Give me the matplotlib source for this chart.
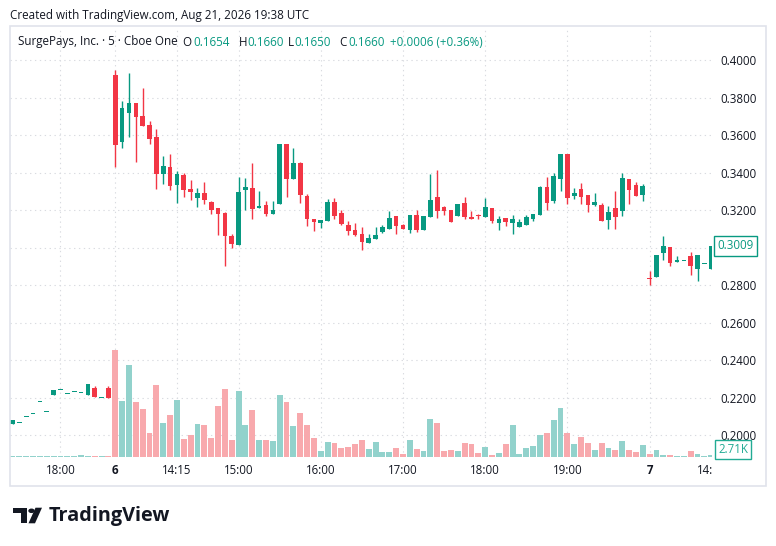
import matplotlib
matplotlib.use('Agg')
import matplotlib.pyplot as plt
import matplotlib.transforms as mtransforms
from matplotlib.patches import Rectangle, Circle, Polygon

plt.rcParams['font.family'] = ['Open Sans', 'DejaVu Sans']

# bar index: 0 = first 5-min bar of the 6th (13:30), 78 = first bar of the 7th
bar_idx = list(range(-15, 88))

opens = [0.2059, 0.2062, 0.2094, 0.2112, 0.2176, 0.2123, 0.2215, 0.2238, 0.2219, 0.2228,
         0.2224, 0.2215, 0.2251, 0.2197, 0.2251,
         0.3920, 0.3564, 0.3719, 0.3771, 0.3701, 0.3653, 0.3589, 0.3394, 0.3429, 0.3335,
         0.3387, 0.3312, 0.3266, 0.3291, 0.3243, 0.3211, 0.3184, 0.3061, 0.3015, 0.3308,
         0.3317, 0.3213, 0.3227, 0.3180, 0.3234, 0.3552, 0.3367, 0.3451, 0.3275, 0.3152,
         0.3132, 0.3143, 0.3243, 0.3184, 0.3120, 0.3093, 0.3072, 0.3026, 0.3047, 0.3083,
         0.3100, 0.3168, 0.3120, 0.3093, 0.3173, 0.3093, 0.3163, 0.3269, 0.3216, 0.3200,
         0.3168, 0.3238, 0.3163, 0.3168, 0.3163, 0.3211, 0.3131, 0.3157, 0.3131, 0.3109,
         0.3120, 0.3152, 0.3173, 0.3323, 0.3248, 0.3365, 0.3499, 0.3275, 0.3312, 0.3280,
         0.3227, 0.3227, 0.3147, 0.3211, 0.3195, 0.3365, 0.3333, 0.3280,
         0.2837, 0.2843, 0.2971, 0.3003, 0.2925, 0.2926, 0.2955, 0.2885, 0.2910, 0.2885]
highs = [0.2080, 0.2062, 0.2094, 0.2112, 0.2176, 0.2123, 0.2240, 0.2238, 0.2219, 0.2228,
         0.2224, 0.2272, 0.2261, 0.2197, 0.2261,
         0.3947, 0.3781, 0.3931, 0.3771, 0.3851, 0.3675, 0.3632, 0.3488, 0.3499, 0.3408,
         0.3397, 0.3360, 0.3317, 0.3349, 0.3248, 0.3211, 0.3189, 0.3072, 0.3376, 0.3371,
         0.3451, 0.3301, 0.3248, 0.3248, 0.3552, 0.3552, 0.3531, 0.3456, 0.3285, 0.3152,
         0.3147, 0.3259, 0.3264, 0.3200, 0.3141, 0.3131, 0.3109, 0.3072, 0.3109, 0.3120,
         0.3195, 0.3168, 0.3125, 0.3173, 0.3200, 0.3168, 0.3392, 0.3413, 0.3221, 0.3200,
         0.3232, 0.3269, 0.3195, 0.3179, 0.3264, 0.3211, 0.3168, 0.3157, 0.3173, 0.3152,
         0.3173, 0.3179, 0.3328, 0.3376, 0.3397, 0.3499, 0.3499, 0.3317, 0.3344, 0.3280,
         0.3291, 0.3237, 0.3221, 0.3301, 0.3397, 0.3365, 0.3349, 0.3339,
         0.2875, 0.2960, 0.3061, 0.3003, 0.2955, 0.2926, 0.2976, 0.2960, 0.2910, 0.3009]
lows = [0.2059, 0.2062, 0.2094, 0.2112, 0.2176, 0.2123, 0.2215, 0.2238, 0.2219, 0.2228,
        0.2224, 0.2215, 0.2204, 0.2197, 0.2197,
        0.3428, 0.3532, 0.3591, 0.3458, 0.3650, 0.3554, 0.3314, 0.3340, 0.3308, 0.3239,
        0.3271, 0.3255, 0.3218, 0.3234, 0.3180, 0.3068, 0.2903, 0.2999, 0.3015, 0.3202,
        0.3154, 0.3212, 0.3168, 0.3180, 0.3234, 0.3271, 0.3367, 0.3239, 0.3116, 0.3090,
        0.3106, 0.3143, 0.3154, 0.3122, 0.3068, 0.3061, 0.2988, 0.3026, 0.3047, 0.3077,
        0.3100, 0.3072, 0.3100, 0.3077, 0.3083, 0.3093, 0.3163, 0.3157, 0.3173, 0.3136,
        0.3168, 0.3152, 0.3152, 0.3152, 0.3163, 0.3131, 0.3093, 0.3115, 0.3072, 0.3109,
        0.3120, 0.3141, 0.3173, 0.3200, 0.3237, 0.3301, 0.3232, 0.3259, 0.3232, 0.3189,
        0.3221, 0.3143, 0.3099, 0.3099, 0.3168, 0.3232, 0.3275, 0.3248,
        0.2800, 0.2843, 0.2933, 0.2901, 0.2925, 0.2926, 0.2853, 0.2821, 0.2910, 0.2885]
closes = [0.2080, 0.2062, 0.2094, 0.2112, 0.2176, 0.2123, 0.2240, 0.2238, 0.2219, 0.2228,
          0.2224, 0.2272, 0.2204, 0.2197, 0.2197,
          0.3547, 0.3742, 0.3771, 0.3698, 0.3650, 0.3580, 0.3394, 0.3435, 0.3330, 0.3392,
          0.3308, 0.3298, 0.3291, 0.3255, 0.3202, 0.3180, 0.3063, 0.3020, 0.3296, 0.3323,
          0.3207, 0.3216, 0.3179, 0.3200, 0.3552, 0.3367, 0.3451, 0.3282, 0.3154, 0.3138,
          0.3147, 0.3243, 0.3168, 0.3127, 0.3090, 0.3067, 0.3031, 0.3051, 0.3067, 0.3109,
          0.3157, 0.3115, 0.3100, 0.3173, 0.3093, 0.3168, 0.3253, 0.3195, 0.3195, 0.3136,
          0.3232, 0.3163, 0.3154, 0.3166, 0.3216, 0.3141, 0.3152, 0.3136, 0.3152, 0.3136,
          0.3163, 0.3179, 0.3323, 0.3237, 0.3381, 0.3499, 0.3264, 0.3291, 0.3269, 0.3227,
          0.3243, 0.3143, 0.3189, 0.3163, 0.3371, 0.3307, 0.3275, 0.3328,
          0.2832, 0.2960, 0.3008, 0.2917, 0.2927, 0.2926, 0.2901, 0.2960, 0.2910, 0.3009]
# volume in thousands of shares
volumes = [1.1, 1.1, 1.1, 1.1, 1.1, 1.1, 1.1, 1.1, 1.1, 1.1, 2.7, 1.1, 1.1, 1.1, 1.1,
           172, 89, 148, 88, 77, 39, 116, 55, 68, 92,
           29, 36, 53, 52, 31, 82, 109, 28, 106, 52,
           76, 28, 27, 25, 100, 88, 49, 70, 52, 30,
           9.1, 23.5, 21.9, 13.9, 15.5, 20.3, 26.7, 12.3, 23.5, 7.5,
           7.5, 13.9, 4.3, 26.7, 12.3, 9.1, 60.3, 53.9, 9.1, 10.7,
           9.1, 21.9, 20.3, 5.9, 15.5, 2.7, 5.9, 20.3, 50.7, 4.3,
           13.9, 17.1, 34.7, 37.9, 58.7, 77.9, 37.9, 20.3, 31.5, 21.9,
           10.7, 21.9, 13.9, 10.7, 25.1, 10.7, 7.5, 18.7,
           4.3, 10.7, 2.7, 2.7, 1.1, 1.1, 9.1, 4.3, 1.1, 2.71]

tick_idx = [-8, 0, 9, 18, 30, 42, 54, 66, 78, 87]
tick_labels = ['18:00', '6', '14:15', '15:00', '16:00', '17:00', '18:00', '19:00', '7', '14:15']
day_ticks = ['6', '7']
price_ticks = [0.20, 0.22, 0.24, 0.26, 0.28, 0.30, 0.32, 0.34, 0.36, 0.38, 0.40]

UP = '#089981'
DOWN = '#F23645'
UP_VOL = '#92d2cc'
DOWN_VOL = '#f8a9ad'
TXT = '#131722'
GRID = '#d9dbe0'

W, H = 776, 546


def fx(px):
    return px / W


def fy(py):
    return 1 - py / H


fig = plt.figure(figsize=(W / 100, H / 100), dpi=100)
fig.patch.set_facecolor('white')

rect = [fx(10), fy(457), fx(712) - fx(10), fy(27) - fy(457)]
xlim = (-15.37, 87.11)
ylim = (0.18827, 0.41760)

# grid layer
gax = fig.add_axes(rect)
gax.set_xlim(*xlim)
gax.set_ylim(*ylim)
for t in tick_idx[:-1]:
    gax.axvline(t, color=GRID, lw=0.8, ls=(0, (1.2, 3.2)))
for p in price_ticks:
    gax.axhline(p, color=GRID, lw=0.8, ls=(0, (1.2, 3.2)))
gax.axis('off')

# volume layer
vax = fig.add_axes(rect)
vax.set_xlim(*xlim)
vax.set_ylim(0, 688)
vol_colors = [UP_VOL if c >= o else DOWN_VOL for o, c in zip(opens, closes)]
vax.bar(bar_idx, volumes, width=0.86, color=vol_colors, linewidth=0)
vax.axis('off')

# price layer
ax = fig.add_axes(rect)
ax.patch.set_visible(False)
ax.set_xlim(*xlim)
ax.set_ylim(*ylim)
colors = [UP if c >= o else DOWN for o, c in zip(opens, closes)]
ax.vlines(bar_idx, lows, highs, colors=colors, lw=1.0)
bottoms = [min(o, c) for o, c in zip(opens, closes)]
heights = [max(abs(c - o), 0.0006) for o, c in zip(opens, closes)]
ax.bar(bar_idx, heights, bottom=bottoms, width=0.68, color=colors, linewidth=0)

# the 0.3000 label sits under the last-price box, as in the app
ax.yaxis.tick_right()
ax.set_yticks(price_ticks)
ax.set_yticklabels(['' if abs(p - 0.30) < 1e-9 else '%.4f' % p for p in price_ticks])
ax.tick_params(axis='y', length=0, pad=6, labelsize=8.3, labelcolor=TXT)
ax.set_xticks([])
for s in ax.spines.values():
    s.set_visible(False)

# last price and last volume labels
trans = mtransforms.blended_transform_factory(ax.transAxes, ax.transData)
ax.text(1 + 5 / 702, closes[-1], '%.4f' % closes[-1], transform=trans, ha='left', va='center',
        fontsize=8.3, color=UP,
        bbox=dict(boxstyle='square,pad=0.3', fc='white', ec=UP, lw=1))
fig.text(fx(718), fy(449.5), '%.2fK' % volumes[-1], ha='left', va='center', fontsize=8.3,
         color='#22ab94',
         bbox=dict(boxstyle='square,pad=0.25', fc='white', ec='#22ab94', lw=1))

# time axis
tax = fig.add_axes([fx(10), fy(486), fx(712) - fx(10), fy(457) - fy(486)])
tax.set_xlim(*xlim)
tax.set_ylim(0, 1)
tax.axis('off')
for t, lab in zip(tick_idx, tick_labels):
    tax.text(t, 0.55, lab, ha='center', va='center', fontsize=8.3, color=TXT,
             fontweight='bold' if lab in day_ticks else 'normal', clip_on=True)

# chart frame
fig.patches.append(Rectangle((fx(10), fy(486)), fx(766) - fx(10), fy(26) - fy(486),
                             transform=fig.transFigure, fill=False, ec='#e0e3eb', lw=1.2))

# header
fig.text(fx(10), fy(15), 'Created with TradingView.com, Aug 21, 2026 19:38 UTC',
         ha='left', va='center', fontsize=8.4, color=TXT)
legend_parts = [
    (18, 'SurgePays, Inc. \u00b7 5 \u00b7 Cboe One', TXT),
    (182, 'O', TXT), (193, '0.1654', UP),
    (239, 'H', TXT), (247.5, '0.1660', UP),
    (288, 'L', TXT), (294, '0.1650', UP),
    (339, 'C', TXT), (348.5, '0.1660', UP),
    (390, '+0.0006 (+0.36%)', UP),
]
for px, s, c in legend_parts:
    fig.text(fx(px), fy(42), s, ha='left', va='center', fontsize=8.4, color=c)

# TradingView logo
logo = '#131722'
fig.patches.append(Polygon([(fx(12.7), fy(507.7)), (fx(27.3), fy(507.7)), (fx(27.3), fy(523.3)),
                            (fx(20.7), fy(523.3)), (fx(20.7), fy(513.3)), (fx(12.7), fy(513.3))],
                           closed=True, transform=fig.transFigure, fc=logo, ec='none'))
fig.patches.append(Circle((fx(31.5), fy(510.8)), 3.2 / W, transform=fig.transFigure,
                          fc=logo, ec='none'))
fig.patches.append(Polygon([(fx(35.5), fy(507.7)), (fx(42), fy(507.7)), (fx(35), fy(523.3)),
                            (fx(28.5), fy(523.3))],
                           closed=True, transform=fig.transFigure, fc=logo, ec='none'))
fig.text(fx(49), fy(516), 'TradingView', ha='left', va='center', fontsize=14.3,
         fontweight='bold', color=logo)

fig.savefig('out.png', dpi=100)
